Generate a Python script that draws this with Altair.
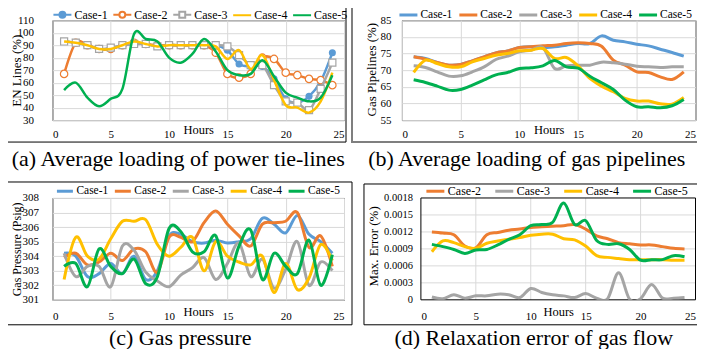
import altair as alt
import pandas as pd

hours = list(range(1, 25))
cases = ["Case-1", "Case-2", "Case-3", "Case-4", "Case-5"]
palette = ["#5B9BD5", "#ED7D31", "#A5A5A5", "#FFC000", "#00B050"]

# (a) Average loading of power tie-lines (EN Lines, %)
en_case1 = [93, 92, 90, 87, 87, 90, 91, 91, 89, 90, 90, 90, 90, 90, 86, 75, 73, 73, 63, 47, 44, 49, 61, 84]
en_case2 = [67, 92, 90, 87, 87, 90, 92, 91, 90, 90, 90, 90, 90, 84, 67, 64, 67, 80, 79, 68, 66, 63, 62, 58]
en_case3 = [93, 92, 90, 87, 88, 90, 91, 91, 89, 90, 90, 90, 90, 90, 89, 82, 74, 74, 58, 45, 44, 38, 55, 76]
en_case4 = [93, 92, 90, 87, 87, 90, 93, 91, 89, 90, 90, 90, 90, 89, 79, 86, 71, 82, 62, 42, 40, 36, 45, 68]
en_case5 = [54, 60, 48, 41, 47, 55, 99, 95, 93, 80, 76, 83, 95, 85, 70, 66, 67, 78, 65, 52, 48, 45, 48, 66]

# (b) Average loading of gas pipelines (%)
gp_case1 = [74, 73.5, 72.3, 71.5, 71.7, 72.8, 74, 75.2, 75.8, 76.8, 77, 76.7, 77, 77.5, 78, 78, 80.3, 79, 78.5, 77.8, 77.3, 76.3, 75.3, 74.2]
gp_case2 = [74, 73.3, 72.3, 71.5, 71.7, 72.8, 74, 75.2, 75.8, 76.8, 77, 77.3, 77.5, 78, 78.2, 78, 77.2, 73, 71.5, 69.5, 69.3, 68, 67.2, 69.5]
gp_case3 = [71.3, 70.8, 69.5, 68.2, 68.3, 69.5, 71, 73.2, 74.2, 75.5, 76, 76.8, 70.5, 71.3, 71.5, 71.5, 72.4, 72.2, 71.8, 71.2, 71, 70.8, 71, 71]
gp_case4 = [69.3, 73, 72, 71, 71, 72.5, 73.5, 74.5, 75, 75.8, 76, 76.5, 73.5, 73.8, 71.3, 67.5, 65.2, 63.5, 61.5, 60.7, 60.7, 59.9, 59.8, 61.8]
gp_case5 = [67.1, 66.3, 65.2, 64, 64.2, 65.5, 67.1, 68.6, 69.3, 70.5, 70.7, 71.3, 72.9, 71, 70.6, 68.2, 66.2, 64.2, 61, 59, 59, 58.7, 59.3, 61.2]

# (c) Gas pressure (Psig)
pr_case1 = [304.2, 304.0, 302.6, 302.8, 303.5, 302.8, 304.0, 302.4, 303.0, 305.4, 305.5, 305.0, 304.9, 305.1, 304.9, 305.0, 305.2, 306.6, 306.2, 305.6, 306.8, 305.5, 305.0, 304.2]
pr_case2 = [303.9, 304.2, 303.4, 303.6, 304.2, 303.7, 304.5, 304.3, 302.9, 305.3, 305.3, 305.0, 306.3, 307.1, 306.2, 305.4, 304.7, 306.2, 306.3, 306.4, 307.0, 304.6, 305.4, 303.3]
pr_case3 = [304.2, 302.6, 303.3, 303.3, 301.9, 304.7, 304.4, 302.9, 302.3, 301.9, 302.7, 303.2, 303.9, 302.4, 303.5, 304.9, 302.6, 303.8, 301.8, 303.1, 305.0, 302.0, 303.6, 303.0]
pr_case4 = [302.4, 305.3, 304.0, 303.8, 305.2, 306.4, 306.4, 306.5, 304.8, 304.0, 304.6, 305.3, 303.0, 305.0, 304.0, 303.6, 303.4, 304.0, 301.5, 303.5, 301.7, 302.5, 304.8, 303.7]
pr_case5 = [303.3, 303.5, 301.9, 304.5, 303.3, 302.8, 303.8, 302.1, 302.6, 305.9, 305.7, 304.3, 304.3, 305.4, 302.5, 304.7, 305.8, 302.4, 304.2, 303.3, 302.8, 305.1, 302.0, 304.1]

# (d) Relaxation error of gas flow (Max. Error, %)
err_case2 = [0.00120, 0.00118, 0.00115, 0.00095, 0.00092, 0.00115, 0.00119, 0.00123, 0.00125, 0.00128, 0.00129, 0.00130, 0.00131, 0.00133, 0.00125, 0.00113, 0.00108, 0.00101, 0.00099, 0.00097, 0.00097, 0.00094, 0.00091, 0.00090]
err_case3 = [0.00005, 0.00002, 0.00009, 0.00003, 0.00007, 0.00007, 0.00010, 0.00009, 0.00004, 0.00020, 0.00013, 0.00009, 0.00007, 0.00004, 0.00011, 0.00003, 0.00002, 0.00048, 0.00001, 0.00002, 0.00027, 0.00003, 0.00003, 0.00004]
err_case4 = [0.00085, 0.00104, 0.00101, 0.00094, 0.00091, 0.00100, 0.00104, 0.00107, 0.00110, 0.00114, 0.00116, 0.00116, 0.00108, 0.00106, 0.00095, 0.00078, 0.00075, 0.00073, 0.00071, 0.00071, 0.00071, 0.00071, 0.00070, 0.00070]
err_case5 = [0.00098, 0.00094, 0.00089, 0.00082, 0.00088, 0.00089, 0.00097, 0.00107, 0.00115, 0.00131, 0.00133, 0.00137, 0.00171, 0.00133, 0.00140, 0.00105, 0.00098, 0.00099, 0.00089, 0.00070, 0.00071, 0.00071, 0.00078, 0.00076]
err_ticks = [0, 0.0003, 0.0006, 0.0009, 0.0012, 0.0015, 0.0018]
err_tick_labels = ["0", "0.0003", "0.0006", "0.0009", "0.0012", "0.0015", "0.0018"]
hour_ticks = [0, 5, 10, 15, 20, 25]

FONT = "Liberation Serif"
GRID = "#D9D9D9"


def long(series):
    rows = []
    for c, vals in series.items():
        for h, v in zip(hours, vals):
            rows.append({"case": c, "hour": h, "value": v})
    return pd.DataFrame(rows)


def x_enc(label_pad, title_y, rng=None, grid=True, title_x=None):
    sc = dict(domain=[0, 25], nice=False, zero=False, padding=0)
    if rng:
        sc["range"] = rng
    ax = dict(values=hour_ticks, title="Hours", labelPadding=label_pad, titleY=title_y,
              titleBaseline="middle", grid=grid, labelOverlap=False)
    if title_x is not None:
        ax["titleX"] = title_x
    return alt.X("hour:Q", scale=alt.Scale(**sc), axis=alt.Axis(**ax))


def y_enc(domain, values, title, label_pad, title_x, title_y, label_size=11,
          grid=True, labels=True, title_size=13):
    ax = dict(values=values, title=title, labelPadding=label_pad, titleX=title_x, titleY=title_y,
              titleAngle=270, titleBaseline="middle", titleAlign="center", grid=grid,
              labelFontSize=label_size, labelOverlap=False, titleFontSize=title_size, labels=labels)
    return alt.Y("value:Q", scale=alt.Scale(domain=domain, nice=False, zero=False, padding=0),
                 axis=alt.Axis(**ax))


def frame(x1, x2, y1, y2, color, width):
    return alt.Chart(pd.DataFrame({"f": [0]})).mark_rect(
        filled=False, stroke=color, strokeWidth=width, fillOpacity=0).encode(
        x=alt.value(x1), x2=alt.value(x2), y=alt.value(y1), y2=alt.value(y2))


def legend(x, y, size, pad, stype=None, sw=2.5, fsize=12, loff=2):
    kw = dict(orient="none", legendX=x, legendY=y, direction="horizontal", title=None,
              symbolSize=size, symbolStrokeWidth=sw, columnPadding=pad, labelOffset=loff,
              labelFont=FONT, labelFontSize=fsize, labelColor="black", labelLimit=0)
    if stype:
        kw["symbolType"] = stype
    return alt.Legend(**kw)


def caption(text, dx, offset):
    return alt.TitleParams(text=text, orient="bottom", anchor="middle", frame="group", dx=dx,
                           offset=offset, font=FONT, fontSize=22, fontWeight="normal", color="black")


# ---------------- panel (a) ----------------
df_a = long({"Case-1": en_case1, "Case-2": en_case2, "Case-3": en_case3,
             "Case-4": en_case4, "Case-5": en_case5})
cs_a = alt.Scale(domain=cases, range=palette)
leg_a = legend(0, -15.5, 324, 1, sw=2)
xa = x_enc(8, 9)
ya = y_enc([30, 110], list(range(30, 111, 10)), "EN Lines (%)", 19, -35.5, 50)

circ = "M-1,0H-0.33M0.33,0H1M-0.33,0A0.33,0.33,0,1,0,0.33,0A0.33,0.33,0,1,0,-0.33,0Z"
sq = "M-1,0H-0.33M0.33,0H1M-0.33,-0.33H0.33V0.33H-0.33Z"
ln = "M-1,0H1"
leg_paths = [circ, circ, sq, ln, ln]
leg_fills = [palette[0], "white", "white", "transparent", "transparent"]

layers_a = [frame(-60, 294, -30, 122, "black", 1)]
for i, c in enumerate(cases):
    sub = df_a[df_a.case == c]
    layers_a.append(alt.Chart(sub).mark_line(interpolate="cardinal", strokeWidth=2.5, clip=True).encode(
        x=xa, y=ya, color=alt.Color("case:N", scale=cs_a, legend=leg_a)))
    if i == 0:
        layers_a.append(alt.Chart(sub).mark_point(shape="circle", filled=True, size=50, color=palette[0],
                                                  opacity=1, clip=True).encode(x=xa, y=ya))
    elif i == 1:
        layers_a.append(alt.Chart(sub).mark_point(shape="circle", filled=False, fill="white", size=55,
                                                  stroke=palette[1], strokeWidth=1.2, opacity=1,
                                                  clip=True).encode(x=xa, y=ya))
    elif i == 2:
        layers_a.append(alt.Chart(sub).mark_point(shape="square", filled=False, fill="white", size=50,
                                                  stroke=palette[2], strokeWidth=1.2, opacity=1,
                                                  clip=True).encode(x=xa, y=ya))

leg_df = pd.DataFrame({"case": cases, "hour": [-5] * 5, "value": [70] * 5})
layers_a.append(alt.Chart(leg_df).mark_point(filled=False, clip=True, opacity=1, size=324, strokeWidth=2).encode(
    x=xa, y=ya,
    color=alt.Color("case:N", scale=cs_a, legend=leg_a),
    shape=alt.Shape("case:N", scale=alt.Scale(domain=cases, range=leg_paths), legend=leg_a),
    fill=alt.Fill("case:N", scale=alt.Scale(domain=cases, range=leg_fills), legend=leg_a)))

panel_a = alt.layer(*layers_a).properties(
    width=292, height=100, title=caption("(a) Average loading of power tie-lines", -20, 6.3))


def line_panel(series, case_list, colors, xe, ye, leg, extra, w, h, cap, sw=3, view=None):
    df = long(series)
    cs = alt.Scale(domain=case_list, range=colors)
    layers = list(extra)
    for c in case_list:
        layers.append(alt.Chart(df[df.case == c]).mark_line(
            interpolate="cardinal", strokeWidth=sw, clip=True).encode(
            x=xe, y=ye, color=alt.Color("case:N", scale=cs, legend=leg)))
    props = dict(width=w, height=h, title=cap)
    if view is not None:
        props["view"] = view
    return alt.layer(*layers).properties(**props)


# ---------------- panel (b) ----------------
panel_b = line_panel(
    {"Case-1": gp_case1, "Case-2": gp_case2, "Case-3": gp_case3, "Case-4": gp_case4, "Case-5": gp_case5},
    cases, palette, x_enc(8, 9),
    y_enc([55, 85], list(range(55, 86, 5)), "Gas Pipelines (%)", 11, -30.5, 49),
    legend(-4, -16, 324, 0, "stroke", 3, fsize=11.5, loff=1.5),
    [frame(-50, 302, -30, 122, "#7F7F7F", 2)], 294, 100,
    caption("(b) Average loading of gas pipelines", -22, 5.8))

# ---------------- panel (c) ----------------
panel_c = line_panel(
    {"Case-1": pr_case1, "Case-2": pr_case2, "Case-3": pr_case3, "Case-4": pr_case4, "Case-5": pr_case5},
    cases, palette, x_enc(11, 12),
    y_enc([301, 308], list(range(301, 309)), "Gas Pressure (Psig)", 14, -36, 51, title_size=12),
    legend(3, -16.5, 256, 0, "stroke", 3, fsize=11.5),
    [frame(-60, 300, -16, 127, "black", 1)], 292, 102,
    caption("(c) Gas pressure", -18, 2.3))

# ---------------- panel (d) ----------------
# plot area of (d) starts 19 px right of its column; grid, frame and tick labels use its scales
D_SHIFT = 19
D_W = 294
xd = x_enc(11, 12, rng=[D_SHIFT, D_W], grid=False, title_x=(D_SHIFT + D_W) / 2)
yd = y_enc([0, 0.0018], err_ticks, "Max. Error (%)", 8, -47 + D_SHIFT, 48, grid=False, labels=False)
hgrid = alt.Chart(pd.DataFrame({"value": err_ticks[1:-1]})).mark_rule(color=GRID, strokeWidth=1).encode(
    y=yd, x=alt.datum(0), x2=alt.datum(25))
vgrid = alt.Chart(pd.DataFrame({"hour": hour_ticks[1:-1]})).mark_rule(color=GRID, strokeWidth=1).encode(
    x=xd, y=alt.datum(0), y2=alt.datum(0.0018))
hbord = alt.Chart(pd.DataFrame({"value": [0, 0.0018]})).mark_rule(color="black", strokeWidth=1).encode(
    y=yd, x=alt.datum(0), x2=alt.datum(25))
vbord = alt.Chart(pd.DataFrame({"hour": [0, 25]})).mark_rule(color="black", strokeWidth=1).encode(
    x=xd, y=alt.datum(0), y2=alt.datum(0.0018))
ylabels = alt.Chart(pd.DataFrame({"value": err_ticks, "label": err_tick_labels})).mark_text(
    align="right", baseline="middle", font=FONT, fontSize=10.5, color="black").encode(
    y=yd, x=alt.value(D_SHIFT - 8), text="label:N")

panel_d = line_panel(
    {"Case-2": err_case2, "Case-3": err_case3, "Case-4": err_case4, "Case-5": err_case5},
    cases[1:], palette[1:], xd, yd,
    legend(D_SHIFT + 4, -17.5, 324, 7, "stroke", 3),
    [frame(-57 + D_SHIFT, 290 + D_SHIFT, -14, 127, "black", 1), hgrid, vgrid, hbord, vbord, ylabels],
    D_W, 102,
    caption("(d) Relaxation error of gas flow", -15, 2.3),
    view=alt.ViewBackground(stroke="transparent"))

ind = dict(color="independent", shape="independent", fill="independent")

chart = alt.concat(panel_a, panel_b, panel_c, panel_d, columns=2,
                   spacing={"row": 78, "column": 58}, bounds="flush").resolve_scale(**ind).properties(
    padding={"left": -16.5, "top": -20, "right": -14.5, "bottom": -1.5},
    background="white",
).configure(font=FONT).configure_view(stroke="black", strokeWidth=1).configure_axis(
    labelFont=FONT, labelFontSize=11, labelColor="black", titleFont=FONT, titleFontSize=13,
    titleFontWeight="normal", titleColor="black", gridColor=GRID, gridWidth=1,
    domain=False, ticks=False, tickSize=0, labelAngle=0
).configure_axisX(titleFontSize=12.5)

chart.save("out.html", embed_options={"renderer": "svg", "actions": False})
